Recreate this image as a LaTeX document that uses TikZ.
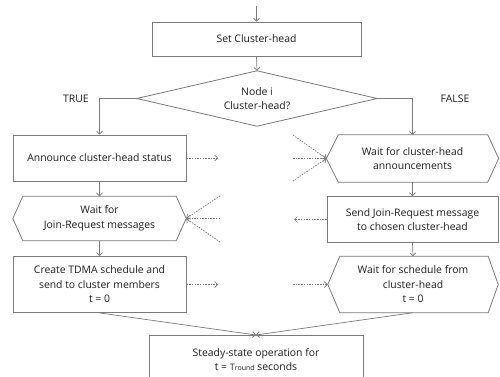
\documentclass[tikz,border=0pt]{standalone}
\usepackage{fontspec}
\setmainfont{Open Sans}
\usetikzlibrary{arrows.meta,calc}
\definecolor{linegray}{HTML}{7A7A7A}
\definecolor{txt}{HTML}{1E1E1E}
\begin{document}
\begin{tikzpicture}[x=1pt,y=-1pt,
  font=\fontsize{10.4}{14.5}\selectfont,
  every node/.style={text=txt, align=center, inner sep=0pt},
  box/.style={draw=linegray, line width=0.8pt},
  shp/.style={draw=linegray, line width=0.8pt, line join=miter},
  conn/.style={draw=linegray, line width=0.7pt, -{Straight Barb[length=3pt,width=6pt]}},
  dconn/.style={conn, dash pattern=on 1.5pt off 1.2pt}]
\path[use as bounding box, clip] (0,0) rectangle (500,377);

% top
\coordinate (start) at (256.5,6);
\node[box, minimum width=209, minimum height=34] (set) at (256.5,39) {Set Cluster-head};
\draw[conn] (start) -- (set.north);

% decision
\node[minimum width=240, minimum height=55] (dia) at (257,98.5) {Node i\\Cluster-head?};
\draw[shp] (dia.north) -- (dia.east) -- (dia.south) -- (dia.west) -- cycle;
\draw[conn] (set.south) -- (dia.north);
\node (true) at (76,99) {TRUE};
\node (false) at (455,99) {FALSE};

% left column
\node[box, minimum width=173, minimum height=46] (ann) at (99.5,158) {Announce cluster-head status};
\node[minimum width=173, minimum height=44] (join) at (99.5,218.5) {Wait for\\Join-Request messages};
\draw[shp] ([xshift=10]join.north west) -- ([xshift=-10]join.north east) -- (join.east)
  -- ([xshift=-10]join.south east) -- ([xshift=10]join.south west) -- (join.west) -- cycle;
\node[box, minimum width=173, minimum height=56] (create) at (99.5,284.5) {Create TDMA schedule and\\send to cluster members\\t = 0};

% right column
\node[minimum width=172, minimum height=47] (hexa) at (412.5,158.5) {Wait for cluster-head\\announcements};
\draw[shp] ([xshift=12]hexa.north west) -- ([xshift=-11]hexa.north east) -- (hexa.east)
  -- ([xshift=-11]hexa.south east) -- ([xshift=12]hexa.south west) -- (hexa.west) -- cycle;
\node[box, minimum width=171, minimum height=46] (send) at (412.5,219.5) {Send Join-Request message\\to chosen cluster-head};
\node[minimum width=170, minimum height=56] (hexs) at (413,284.5) {Wait for schedule from\\cluster-head\\t = 0};
\draw[shp] ([xshift=12]hexs.north west) -- ([xshift=-10]hexs.north east) -- (hexs.east)
  -- ([xshift=-10]hexs.south east) -- ([xshift=12]hexs.south west) -- (hexs.west) -- cycle;

% bottom
\node[box, anchor=north, minimum width=214, minimum height=48] (steady) at (256,335) {Steady-state operation for\\t = {\small T}{\scriptsize round} seconds};

% flow connectors
\draw[conn] (dia.west) -| (ann.north);
\draw[conn] (dia.east) -| (hexa.north);
\draw[conn] (ann.south) -- (join.north);
\draw[conn] (join.south) -- (create.north);
\draw[conn] (hexa.south) -- (send.north);
\draw[conn] (send.south) -- (hexs.north);
\draw[conn] (create.south) -- (steady.north);
\draw[conn] (hexs.south) -- (steady.north);

% message connectors
\coordinate (m1) at (218,158);
\draw[dconn] (ann.east) -- (m1);
\coordinate (r1) at (293,135);
\coordinate (r2) at (293,158.5);
\coordinate (r3) at (293,181);
\draw[dconn] (r1) -- (hexa.west);
\draw[dconn] (r2) -- (hexa.west);
\draw[dconn] (r3) -- (hexa.west);
\coordinate (l1) at (220,196);
\coordinate (l2) at (220,218.5);
\coordinate (l3) at (220,242);
\draw[dconn] (l1) -- (join.east);
\draw[dconn] (l2) -- (join.east);
\draw[dconn] (l3) -- (join.east);
\coordinate (m2) at (294,219.5);
\draw[dconn] (send.west) -- (m2);
\coordinate (m3) at (218,284.5);
\draw[dconn] (create.east) -- (m3);
\coordinate (m4) at (293,284.5);
\draw[dconn] (m4) -- (hexs.west);
\end{tikzpicture}
\end{document}
